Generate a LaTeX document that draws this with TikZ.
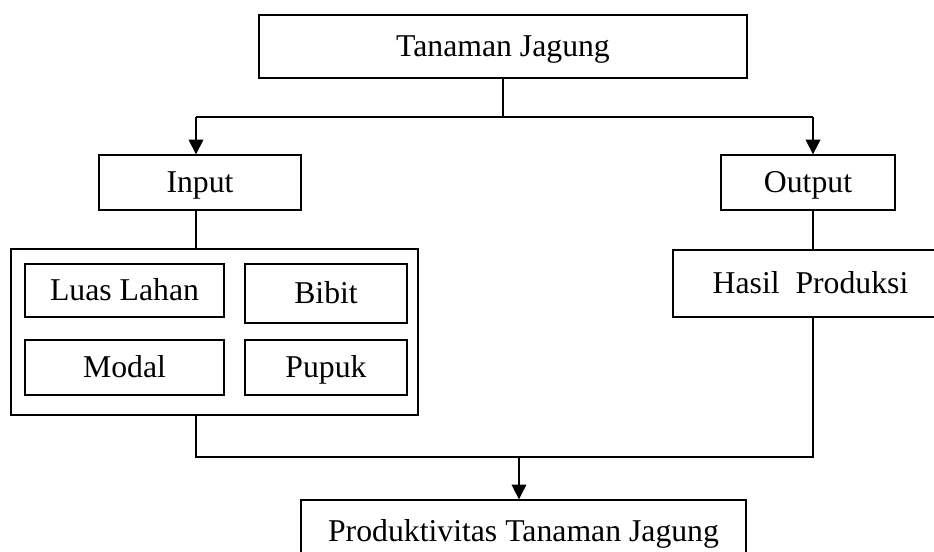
\documentclass[tikz,border=0pt]{standalone}
\usepackage{fontspec}
\setmainfont{Liberation Serif}
\usepackage{tikz}
\usetikzlibrary{arrows.meta, positioning}
\tikzset{
  kotak/.style={draw=black, line width=1pt, inner sep=0pt,
    text height=17pt, text depth=2.5pt,
    font=\fontsize{23.8}{28}\selectfont},
  garis/.style={draw=black, line width=1pt},
  panah/.style={garis, -{Triangle[length=11pt, width=11pt]}}
}

\begin{document}
\begin{tikzpicture}[x=0.75pt, y=-0.75pt]

  \useasboundingbox (0,0) rectangle (934,552);
  \clip (0,0) rectangle (934,552);

  %% top and second row
  \node[kotak, minimum width=366pt, minimum height=47.25pt] (tanaman) at (503,46.5) {Tanaman Jagung};
  \node[kotak, minimum width=151.5pt, minimum height=41.25pt] (input) at (200,182.5) {Input};
  \node[kotak, minimum width=130.5pt, minimum height=41.25pt] (output) at (808,182.5) {Output};

  %% input factors
  \node[kotak, minimum width=305.25pt, minimum height=124.5pt] (wadah) at (214.5,332) {};
  \node[kotak, minimum width=149.25pt, minimum height=39.75pt] (luas) at (124.5,290.5) {Luas Lahan};
  \node[kotak, minimum width=121.5pt, minimum height=44.25pt] (bibit) at (326,293.5) {Bibit};
  \node[kotak, minimum width=149.25pt, minimum height=41.25pt] (modal) at (124.5,367.5) {Modal};
  \node[kotak, minimum width=121.5pt, minimum height=41.25pt] (pupuk) at (326,367.5) {Pupuk};

  %% output side and result
  \node[kotak, minimum width=206.25pt, minimum height=50.25pt] (hasil) at (810.5,283.5) {Hasil\ \ Produksi};
  \node[kotak, minimum width=333.75pt, minimum height=48pt] (produk) at (523.5,532) {Produktivitas Tanaman Jagung};

  %% branch points
  \coordinate (kiriatas) at (196,117);
  \coordinate (kananatas) at (813,117);
  \coordinate (kiribawah) at (196,457);
  \coordinate (kananbawah) at (813,457);

  \draw[garis] (tanaman.south) -- (tanaman.south |- kiriatas);
  \draw[garis] (kiriatas) -- (kananatas);
  \draw[panah] (kiriatas) -- (kiriatas |- input.north);
  \draw[panah] (kananatas) -- (kananatas |- output.north);

  \draw[garis] (kiriatas |- input.south) -- (kiriatas |- wadah.north);
  \draw[garis] (kananatas |- output.south) -- (kananatas |- hasil.north);

  \draw[garis] (kiriatas |- wadah.south) -- (kiribawah) -- (kananbawah)
    -- (kananatas |- hasil.south);
  \draw[panah] ([xshift=-3.4pt]produk.north |- kiribawah) -- ([xshift=-3.4pt]produk.north);

\end{tikzpicture}
\end{document}
